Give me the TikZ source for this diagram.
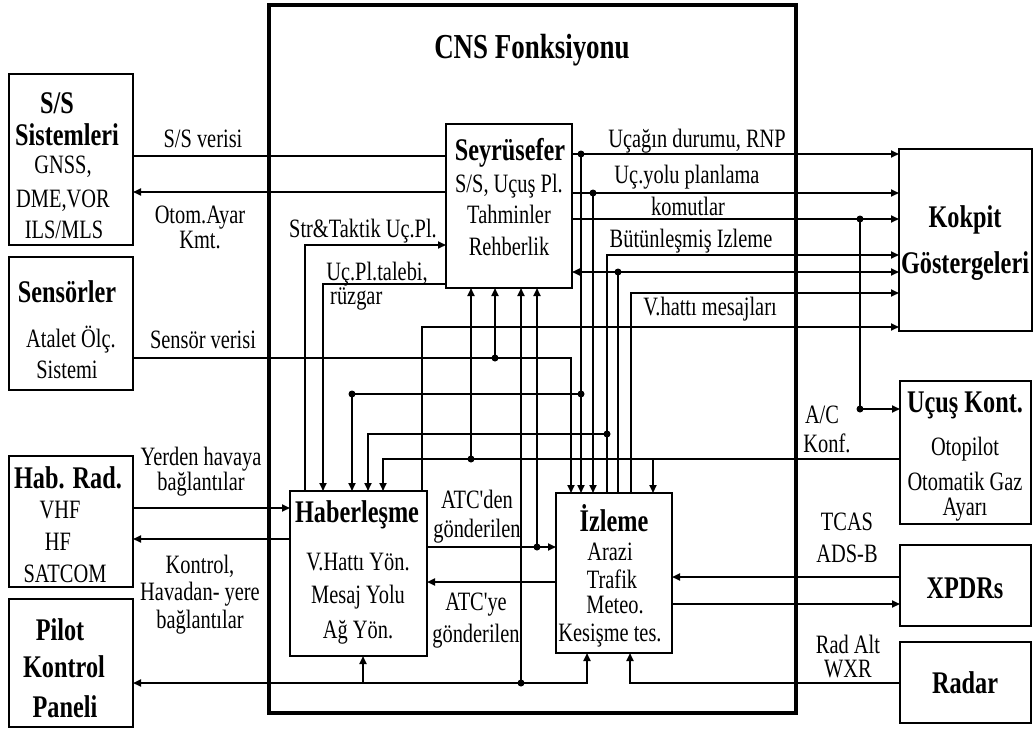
\documentclass[tikz,border=0pt]{standalone}
\usepackage{fontspec}
\setmainfont{Liberation Serif}[FakeStretch=0.77]
\newfontfamily\plainfnt{Liberation Serif}[FakeStretch=0.77]
\newcommand{\sq}{{\plainfnt '}}
\usetikzlibrary{arrows.meta}
\begin{document}
\begin{tikzpicture}[x=1pt,y=-1pt,
  box/.style={draw, line width=2pt, inner sep=0pt, outer sep=0pt},
  ln/.style={line width=1.8pt},
  arr/.style={ln, -{Triangle[length=8pt,width=7pt]}},
  arrb/.style={ln, {Triangle[length=8pt,width=7pt]}-{Triangle[length=8pt,width=7pt]}},
  dot/.style={circle, fill, inner sep=0pt, minimum size=7pt},
  lab/.style={anchor=base, inner sep=0pt, font=\fontsize{26.5}{28}\selectfont},
  blab/.style={anchor=base, inner sep=0pt, font=\fontsize{31.5}{33}\selectfont\bfseries}]
\useasboundingbox (0,0) rectangle (1035,728);
% boxes
\node[draw, line width=3.5pt, inner sep=0pt, minimum width=527pt, minimum height=708pt] (cns) at (532.5,359) {};
\node[box, minimum width=124pt, minimum height=171pt] (ss) at (71,159.5) {};
\node[box, minimum width=124pt, minimum height=133pt] (sens) at (71,323.5) {};
\node[box, minimum width=124pt, minimum height=131pt] (hab) at (71,521.5) {};
\node[box, minimum width=124pt, minimum height=128pt] (pilot) at (71,663) {};
\node[box, minimum width=126pt, minimum height=164pt] (seyr) at (509,206) {};
\node[box, minimum width=137pt, minimum height=165pt] (hab2) at (358.5,573.5) {};
\node[box, minimum width=116pt, minimum height=160pt] (izl) at (614,573) {};
\node[box, minimum width=133pt, minimum height=182pt] (kok) at (965.5,240) {};
\node[box, minimum width=131pt, minimum height=143pt] (ucus) at (965.5,452.5) {};
\node[box, minimum width=131pt, minimum height=81pt] (xpdr) at (965.5,585.5) {};
\node[box, minimum width=131pt, minimum height=81pt] (radar) at (965.5,682.5) {};
% left connectors
\draw[ln] (ss.east |- 0,156) -- (seyr.west |- 0,156);
\draw[arr] (seyr.west |- 0,192) -- (ss.east |- 0,192);
\draw[arr] (sens.east |- 0,358) -| (izl.north -| 571,0);
\node[dot] (d495) at (495,358) {};
\draw[arr] (d495.center) -- (seyr.south -| d495);
\draw[arr] (hab.east |- 0,508) -- (hab2.west |- 0,508);
\draw[arr] (hab2.west |- 0,539) -- (hab.east |- 0,539);
\draw[arr] (hab2.north -| 305,0) |- (seyr.west |- 0,245);
\draw[arr] (seyr.west |- 0,284) -| (hab2.north -| 323,0);
\node[dot] (d352) at (352,394) {};
\node[dot] (d581b) at (581,394) {};
\draw[ln] (d352.center) -- (d581b.center);
\draw[arr] (d352.center) -- (hab2.north -| d352);
\node[dot] (d607) at (607,434) {};
\draw[arr] (d607.center) -| (hab2.north -| 368,0);
\draw[arr] (ucus.west |- 0,459) -| (hab2.north -| 383,0);
\node[dot] (d471) at (471,459) {};
\draw[arr] (d471.center) -- (seyr.south -| d471);
\coordinate (j653) at (653,459);
\draw[arr] (j653) -- (izl.north -| j653);
\draw[arr] (hab2.north -| 422,0) |- (kok.west |- 0,327);
\node[dot] (d521) at (521,683) {};
\draw[arr] (d521.center) -- (seyr.south -| d521);
\node[dot] (d537) at (537,547) {};
\draw[arr] (d537.center) -- (seyr.south -| d537);
\draw[arr] (hab2.east |- 0,547) -- (izl.west |- 0,547);
\draw[arr] (izl.west |- 0,582) -- (hab2.east |- 0,582);
\draw[arrb] (pilot.east |- 0,683) -| (izl.south -| 587,0);
\coordinate (j363) at (363,683);
\draw[arr] (j363) -- (hab2.south -| j363);
\draw[arr] (radar.west |- 0,683) -| (izl.south -| 630,0);
\draw[arr] (xpdr.west |- 0,577) -- (izl.east |- 0,577);
\draw[arr] (izl.east |- 0,604) -- (xpdr.west |- 0,604);
% right of Seyrusefer
\draw[arr] (seyr.east |- 0,154) -- (kok.west |- 0,154);
\node[dot] (d581) at (581,154) {};
\draw[arr] (d581.center) -- (izl.north -| d581);
\draw[arr] (seyr.east |- 0,193) -- (kok.west |- 0,193);
\node[dot] (d593) at (593,193) {};
\draw[arr] (d593.center) -- (izl.north -| d593);
\draw[arr] (seyr.east |- 0,219) -- (kok.west |- 0,219);
\node[dot] (d860) at (860,219) {};
\node[dot] (d860b) at (860,409) {};
\draw[ln] (d860.center) -- (d860b.center);
\draw[arr] (d860b.center) -- (ucus.west |- d860b);
\draw[arr] (izl.north -| 607,0) |- (kok.west |- 0,255);
\node[dot] (d618) at (618,272) {};
\draw[arr] (d618.center) -- (seyr.east |- d618);
\draw[arr] (d618.center) -- (kok.west |- d618);
\draw[ln] (d618.center) -- (izl.north -| d618);
\draw[arr] (izl.north -| 631,0) |- (kok.west |- 0,293);
% title
\node[anchor=base, inner sep=0pt, font=\fontsize{35}{37}\selectfont\bfseries] (title) at (532,58) {CNS Fonksiyonu};
% left box texts
\node[blab] (t1) at (57,113) {S/S};
\node[blab] (t2) at (67,145) {Sistemleri};
\node[lab] (t3) at (63,173) {GNSS,};
\node[lab] (t4) at (63,207) {DME,VOR};
\node[lab] (t5) at (64,238) {ILS/MLS};
\node[blab] (t6) at (67,302) {Sensörler};
\node[lab] (t7) at (71,347) {Atalet Ölç.};
\node[lab] (t8) at (67,378) {Sistemi};
\node[blab] (t9) at (68,488) {Hab. Rad.};
\node[lab] (t10) at (60,518) {VHF};
\node[lab] (t11) at (58,550) {HF};
\node[lab] (t12) at (65,582) {SATCOM};
\node[blab] (t13) at (60,640) {Pilot};
\node[blab] (t14) at (64,677) {Kontrol};
\node[blab] (t15) at (65,717) {Paneli};
% left labels
\node[lab] (l1) at (203,147) {S/S verisi};
\node[lab] (l2) at (200,223) {Otom.Ayar};
\node[lab] (l3) at (200,248) {Kmt.};
\node[lab] (l4) at (203,348) {Sensör verisi};
\node[lab] (l5) at (201,465) {Yerden havaya};
\node[lab] (l6) at (201,490) {bağlantılar};
\node[lab] (l7) at (200,573) {Kontrol,};
\node[lab] (l8) at (200,600) {Havadan- yere};
\node[lab] (l9) at (200,628) {bağlantılar};
\node[lab] (l10) at (363,237) {Str\&Taktik Uç.Pl.};
\node[lab] (l11) at (377,280) {Uç.Pl.talebi,};
\node[lab, anchor=base west] (l12) at (330,304) {rüzgar};
% Seyrusefer
\node[blab] (s1) at (510,160) {Seyrüsefer};
\node[lab] (s2) at (509,192) {S/S, Uçuş Pl.};
\node[lab] (s3) at (509,223) {Tahminler};
\node[lab] (s4) at (509,255) {Rehberlik};
% right labels
\node[lab] (r1) at (697,147) {Uçağın durumu, RNP};
\node[lab] (r2) at (687,183) {Uç.yolu planlama};
\node[lab] (r3) at (688,215) {komutlar};
\node[lab] (r4) at (691,247) {Bütünleşmiş Izleme};
\node[lab] (r5) at (710,315) {V.hattı mesajları};
\node[lab] (r6) at (822,423) {A/C};
\node[lab] (r7) at (827,452) {Konf.};
\node[lab] (r8) at (847,530) {TCAS};
\node[lab] (r9) at (847,562) {ADS-B};
\node[lab] (r10) at (848,653) {Rad Alt};
\node[lab] (r11) at (848,677) {WXR};
% right boxes
\node[blab] (k1) at (965,227) {Kokpit};
\node[blab] (k2) at (965,273) {Göstergeleri};
\node[blab] (u1) at (965,412) {Uçuş Kont.};
\node[lab] (u2) at (965,455) {Otopilot};
\node[lab] (u3) at (965,490) {Otomatik Gaz};
\node[lab] (u4) at (965,515) {Ayarı};
\node[blab] (x1) at (965,598) {XPDRs};
\node[blab] (ra1) at (965,693) {Radar};
% Haberlesme
\node[blab] (h1) at (357,522) {Haberleşme};
\node[lab] (h2) at (358,570) {V.Hattı Yön.};
\node[lab] (h3) at (358,603) {Mesaj Yolu};
\node[lab] (h4) at (358,638) {Ağ Yön.};
\node[lab] (a1) at (477,508) {ATC\sq den};
\node[lab] (a2) at (477,537) {gönderilen};
\node[lab] (a3) at (476,610) {ATC\sq ye};
\node[lab] (a4) at (476,642) {gönderilen};
% Izleme
\node[blab] (i1) at (614,531) {İzleme};
\node[lab] (i2) at (610,560) {Arazi};
\node[lab] (i3) at (612,588) {Trafik};
\node[lab] (i4) at (615,613) {Meteo.};
\node[lab] (i5) at (610,641) {Kesişme tes.};
\end{tikzpicture}
\end{document}
